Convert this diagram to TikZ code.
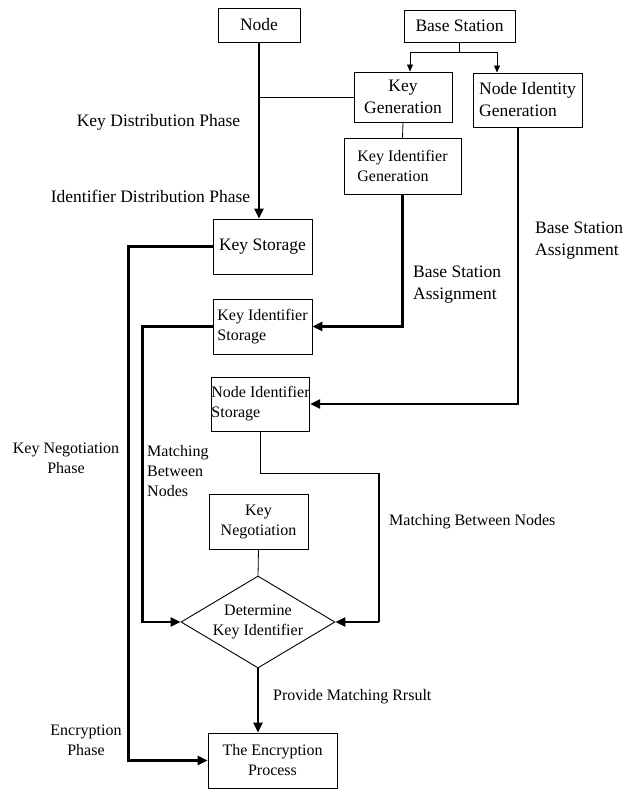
\documentclass[tikz,border=0pt]{standalone}
\usepackage{fontspec}
\setmainfont{Liberation Serif}
\usetikzlibrary{shapes.geometric,arrows.meta}
\newcommand\bigtxt{\fontsize{17.5}{22}\selectfont}
\newcommand\smltxt{\fontsize{16}{20}\selectfont}

\begin{document}
\begin{tikzpicture}[x=1pt,y=-1pt,
    box/.style={draw,line width=0.9pt,inner sep=0pt,align=center,font=\smltxt},
    lbl/.style={inner sep=0pt,font=\smltxt},
    conn/.style={line width=0.8pt},
    heavy/.style={line width=2.4pt},
    tip/.style={-{Triangle[length=10pt,width=9pt]}},
    smalltip/.style={-{Triangle[length=7pt,width=6pt]}}]
            \useasboundingbox (0,0) rectangle (624,789);
            \node [box,font=\bigtxt,minimum width=82pt,minimum height=34pt] (node) at (259,25) {Node};
            \node [box,font=\bigtxt,minimum width=111pt,minimum height=32pt] (bs) at (459.5,26) {Base Station};
            \node [box,font=\bigtxt,minimum width=98pt,minimum height=50pt] (keygen) at (403,97) {Key\\Generation};
            \node [box,font=\bigtxt,align=left,minimum width=109pt,minimum height=54pt] (nidgen) at (527.5,100) {Node Identity\\Generation};
            \node [box,align=left,minimum width=117pt,minimum height=56pt] (kigen) at (402.5,166) {Key Identifier\\Generation};
            \node [box,font=\bigtxt,minimum width=99pt,minimum height=55pt] (kstore) at (262.5,246.5) {Key Storage};
            \node [box,align=left,minimum width=99pt,minimum height=55pt] (kistore) at (262.5,326.5) {Key Identifier\\Storage};
            \node [box,align=left,minimum width=97pt,minimum height=54pt] (nistore) at (260.5,404) {Node Identifier\\Storage};
            \node [box,minimum width=99pt,minimum height=55pt] (kneg) at (258.5,521.5) {Key\\Negotiation};
            \node [box,shape=diamond,aspect=1.67,inner sep=-5pt,minimum width=154pt,minimum height=92pt] (detkey) at (258,622) {Determine\\Key Identifier};
            \node [box,minimum width=129pt,minimum height=55pt] (encr) at (272.5,760.5) {The Encryption\\Process};
            \draw [heavy,tip] (node.south) -- (node.south |- kstore.north);
            \draw [conn] (node.south |- keygen.west) -- (keygen.west);
            \coordinate (bsplit) at ([yshift=-10pt]bs.south);
            \draw [conn] (bs.south) -- (bsplit);
            \draw [conn,smalltip] (bsplit) -| ([xshift=7pt]keygen.north);
            \draw [conn,smalltip] (bsplit) -| ([xshift=-30.5pt]nidgen.north);
            \draw [conn] (keygen.south) -- (kigen.north);
            \draw [heavy,tip] (kigen.south) |- (kistore.east);
            \draw [heavy,tip] ([xshift=-9.5pt]nidgen.south) |- (nistore.east);
            \draw [heavy,tip] (kstore.west) -- ++(-84,0) |- (encr.west);
            \draw [heavy,tip] (kistore.west) -- ++(-70,0) |- (detkey.west);
            \coordinate (nbend) at (379,473);
            \draw [conn] (nistore.south) |- (nbend);
            \draw [line width=1.6pt] (nbend) -- (nbend |- detkey.east);
            \draw [heavy,tip] (nbend |- detkey.east) -- (detkey.east);
            \draw [conn] (kneg.south) -- (detkey.north);
            \draw [heavy,tip] (detkey.south) -- (detkey.south |- encr.north);
            \node [lbl,font=\bigtxt] (kdp) at (158.5,122) {Key Distribution Phase};
            \node [lbl,font=\bigtxt] (idp) at (150.5,196) {Identifier Distribution Phase};
            \node [lbl,font=\bigtxt,align=left,anchor=west] (bsa) at (413,284.5) {Base Station\\Assignment};
            \node [lbl,font=\bigtxt,align=left,anchor=west] (bsb) at (535,241) {Base Station\\Assignment};
            \node [lbl,align=center] (knp) at (66,458) {Key Negotiation\\Phase};
            \node [lbl,align=left,anchor=west] (mbna) at (147,471) {Matching\\Between\\Nodes};
            \node [lbl,anchor=west] (mbnb) at (389,522) {Matching Between Nodes};
            \node [lbl,anchor=west] (pmr) at (273,697) {Provide Matching Rrsult};
            \node [lbl,align=center] (encp) at (86,740) {Encryption\\Phase};
\end{tikzpicture}
\end{document}
